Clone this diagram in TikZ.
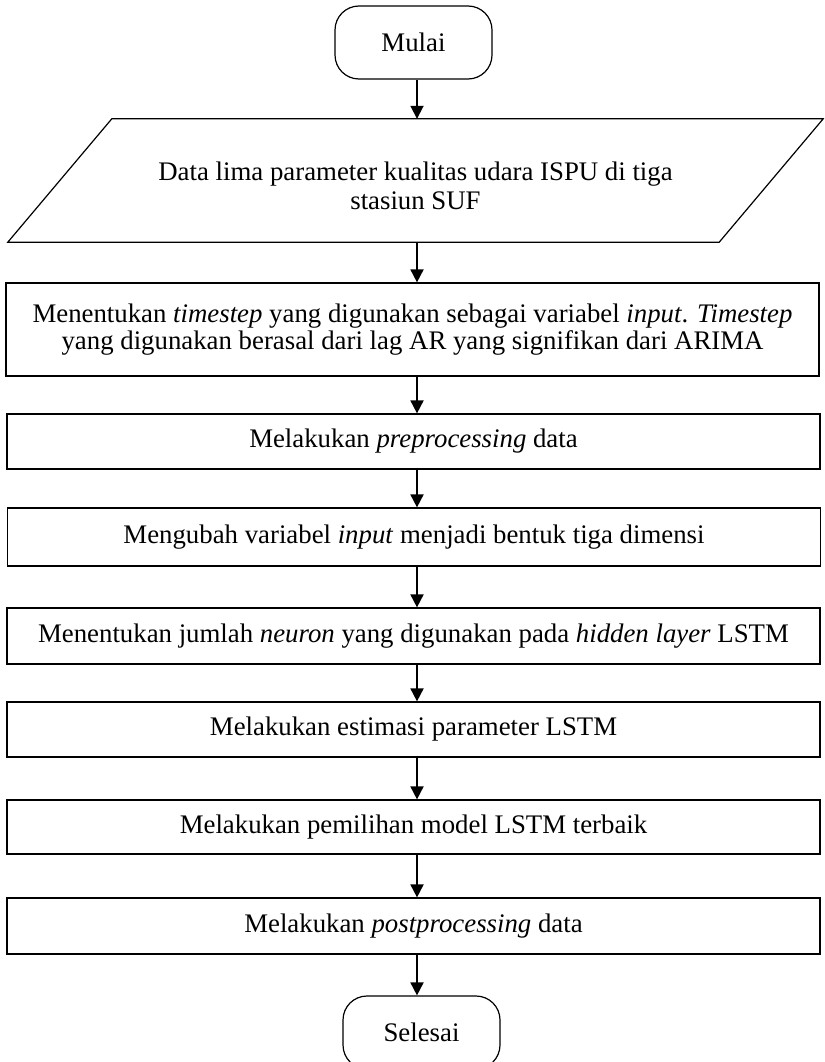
\documentclass[tikz,border=0pt]{standalone}
\usepackage{fontspec}
\setmainfont{Liberation Serif}
\usetikzlibrary{arrows.meta}
\begin{document}
\begin{tikzpicture}[x=1pt,y=-1pt,
  every node/.style={font=\fontsize{26.8}{27}\selectfont, inner sep=0pt},
  procbox/.style={draw, line width=1.2pt, minimum width=813pt, minimum height=#1, align=center},
  termbox/.style={draw, line width=1.2pt, rounded corners=24pt, minimum width=157pt, minimum height=73pt},
  flow/.style={line width=1.8pt, -{Triangle[length=13pt,width=13pt]}}]
\clip (0,0) rectangle (824,1062);
\fill[white] (0,0) rectangle (824,1062);

% vertical line that all connectors follow
\coordinate (axis) at (417,0);

% start terminal
\node[termbox] (start) at (413.5,42.5) {Mulai};

% input data (parallelogram)
\node[minimum width=711pt, minimum height=123pt] (data) at (415.5,180.5) {};
\draw[line width=1.2pt] ([xshift=52pt]data.north west) -- ([xshift=52pt]data.north east)
  -- ([xshift=-52pt]data.south east) -- ([xshift=-52pt]data.south west) -- cycle;
\node[align=center, yshift=-5pt, font=\fontsize{26.8}{29}\selectfont] (datatext) at (data.center)
  {Data lima parameter kualitas udara ISPU di tiga\\stasiun SUF};

% process steps
\node[procbox=93pt] (s1) at (412.5,329.5)
  {Menentukan \textit{timestep} yang digunakan sebagai variabel \textit{input}. \textit{Timestep}\\
   yang digunakan berasal dari lag AR yang signifikan dari ARIMA};
\node[procbox=55pt] (s2) at (413.5,441.5) {Melakukan \textit{preprocessing} data};
\node[procbox=58pt] (s3) at (414,537) {Mengubah variabel \textit{input} menjadi bentuk tiga dimensi};
\node[procbox=56pt] (s4) at (413.5,636) {Menentukan jumlah \textit{neuron} yang digunakan pada \textit{hidden layer} LSTM};
\node[procbox=55pt] (s5) at (413.5,729.5) {Melakukan estimasi parameter LSTM};
\node[procbox=54pt] (s6) at (413.5,827) {Melakukan pemilihan model LSTM terbaik};
\node[procbox=56pt] (s7) at (413.5,926) {Melakukan \textit{postprocessing} data};

% end terminal
\node[termbox] (stop) at (421.5,1032.5) {Selesai};

% connectors
\draw[flow] (start.south -| axis) -- (data.north -| axis);
\draw[flow] (data.south -| axis) -- (s1.north -| axis);
\draw[flow] (s1.south -| axis) -- (s2.north -| axis);
\draw[flow] (s2.south -| axis) -- (s3.north -| axis);
\draw[flow] (s3.south -| axis) -- (s4.north -| axis);
\draw[flow] (s4.south -| axis) -- (s5.north -| axis);
\draw[flow] (s5.south -| axis) -- (s6.north -| axis);
\draw[flow] (s6.south -| axis) -- (s7.north -| axis);
\draw[flow] (s7.south -| axis) -- (stop.north -| axis);
\end{tikzpicture}
\end{document}
